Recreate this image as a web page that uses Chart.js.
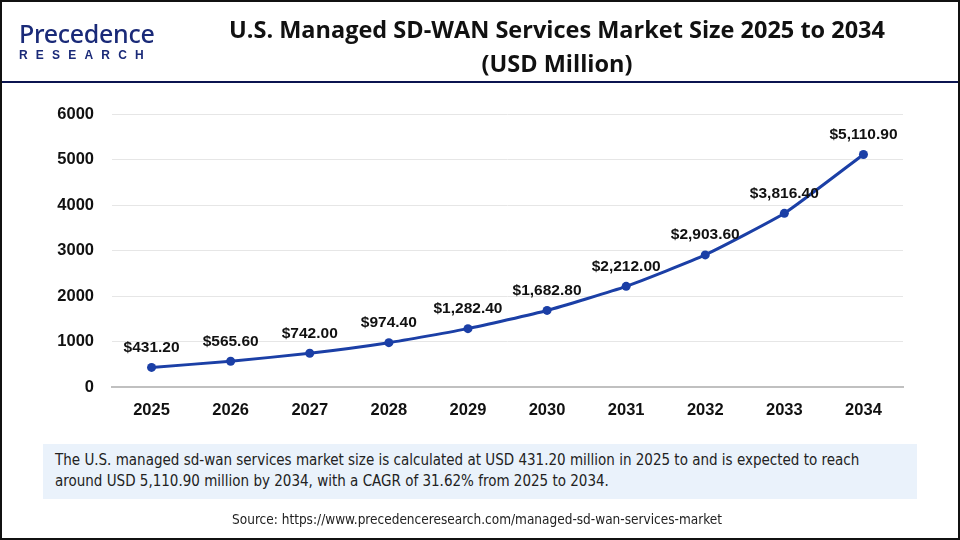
<!DOCTYPE html>
<html>
<head>
<meta charset="utf-8">
<script src="https://cdn.jsdelivr.net/npm/chart.js@4.4.1/dist/chart.umd.min.js"></script>
<style>
  html, body { margin: 0; padding: 0; background: #ffffff; }
  #frame { position: relative; width: 960px; height: 540px; box-sizing: border-box; border: 2px solid #111; overflow: hidden; font-family: Arial, "Liberation Sans", sans-serif; }
  #chartBox { position: absolute; left: 0; top: 0; width: 956px; height: 536px; }
  .logo { position: absolute; left: 17px; top: 17px; }
  .logo .brand { font-family: "Noto Sans", sans-serif; font-size: 25px; font-weight: 500; color: #1a2a78; letter-spacing: -0.3px; line-height: 28px; }
  .logo .sub { font-family: Arial, sans-serif; font-size: 12px; font-weight: 700; color: #1a2a78; letter-spacing: 8.2px; margin-top: 1px; }
  .title { position: absolute; left: 190px; width: 730px; top: 10px; text-align: center; font-family: "Open Sans", sans-serif; font-weight: 700; font-size: 23.5px; line-height: 34px; color: #111; }
  .divider { position: absolute; left: 0; right: 0; top: 79px; height: 2px; background: #0b1450; }
  .note { position: absolute; left: 41px; top: 442px; width: 874px; height: 55px; background: #eaf2fb; box-sizing: border-box; padding: 6px 12px; font-family: "Liberation Sans Narrow", "DejaVu Sans Condensed", sans-serif; font-size: 15px; line-height: 21px; color: #222; }
  .source { position: absolute; left: 0; width: 950px; top: 509px; text-align: center; font-family: "Liberation Sans Narrow", "DejaVu Sans Condensed", sans-serif; font-size: 13.5px; color: #222; }
</style>
</head>
<body>
<div id="frame">
  <div id="chartBox"><canvas id="marketChart"></canvas></div>
  <div class="logo"><div class="brand">Precedence</div><div class="sub">RESEARCH</div></div>
  <div class="title">U.S. Managed SD-WAN Services Market Size 2025 to 2034<br>(USD Million)</div>
  <div class="divider"></div>
  <div class="note">The U.S. managed sd-wan services market size is calculated at USD 431.20 million in 2025 to and is expected to reach around USD 5,110.90 million by 2034, with a CAGR of 31.62% from 2025 to 2034.</div>
  <div class="source">Source: https://www.precedenceresearch.com/managed-sd-wan-services-market</div>
</div>
<script>
const years = ['2025', '2026', '2027', '2028', '2029', '2030', '2031', '2032', '2033', '2034'];
const marketSize = [431.2, 565.6, 742.0, 974.4, 1282.4, 1682.8, 2212.0, 2903.6, 3816.4, 5110.9];
const yTicks = [0, 1000, 2000, 3000, 4000, 5000, 6000];

const lineColor = '#1b3fa6';

function money(v) {
  return '$' + v.toLocaleString('en-US', { minimumFractionDigits: 2, maximumFractionDigits: 2 });
}

const valueLabels = {
  id: 'valueLabels',
  afterDatasetsDraw(chart) {
    const ctx = chart.ctx;
    const meta = chart.getDatasetMeta(0);
    ctx.save();
    ctx.font = 'bold 15.5px Arial, "Liberation Sans", sans-serif';
    ctx.fillStyle = '#111';
    ctx.textAlign = 'center';
    ctx.textBaseline = 'middle';
    meta.data.forEach((pt, i) => {
      ctx.fillText(money(marketSize[i]), pt.x, pt.y - 20);
    });
    ctx.restore();
  }
};

new Chart(document.getElementById('marketChart'), {
  type: 'line',
  data: {
    labels: years,
    datasets: [{
      data: marketSize,
      borderColor: lineColor,
      backgroundColor: lineColor,
      borderWidth: 3,
      pointRadius: 4.5,
      pointBackgroundColor: lineColor,
      pointBorderWidth: 0,
      tension: 0.15,
      fill: false
    }]
  },
  options: {
    responsive: true,
    maintainAspectRatio: false,
    animation: false,
    layout: { padding: { left: 50, right: 55, top: 112, bottom: 111 } },
    plugins: { legend: { display: false }, tooltip: { enabled: false } },
    scales: {
      x: {
        offset: true,
        afterFit(scale) { scale.height = 40; },
        grid: { display: false, drawTicks: false },
        border: { display: true, color: '#c0c0c0', width: 2 },
        ticks: { color: '#111', padding: 14, font: { family: 'Arial, "Liberation Sans", sans-serif', size: 16.5, weight: 'bold' } }
      },
      y: {
        min: 0,
        max: 6000,
        afterFit(scale) { scale.width = 60; },
        afterBuildTicks(scale) { scale.ticks = yTicks.map((v) => ({ value: v })); },
        grid: { color: '#e6e6e6', drawTicks: false },
        border: { display: false },
        ticks: {
          color: '#111',
          padding: 18,
          callback: (v) => String(v),
          font: { family: 'Arial, "Liberation Sans", sans-serif', size: 16.5, weight: 'bold' }
        }
      }
    }
  },
  plugins: [valueLabels]
});
</script>
</body>
</html>
